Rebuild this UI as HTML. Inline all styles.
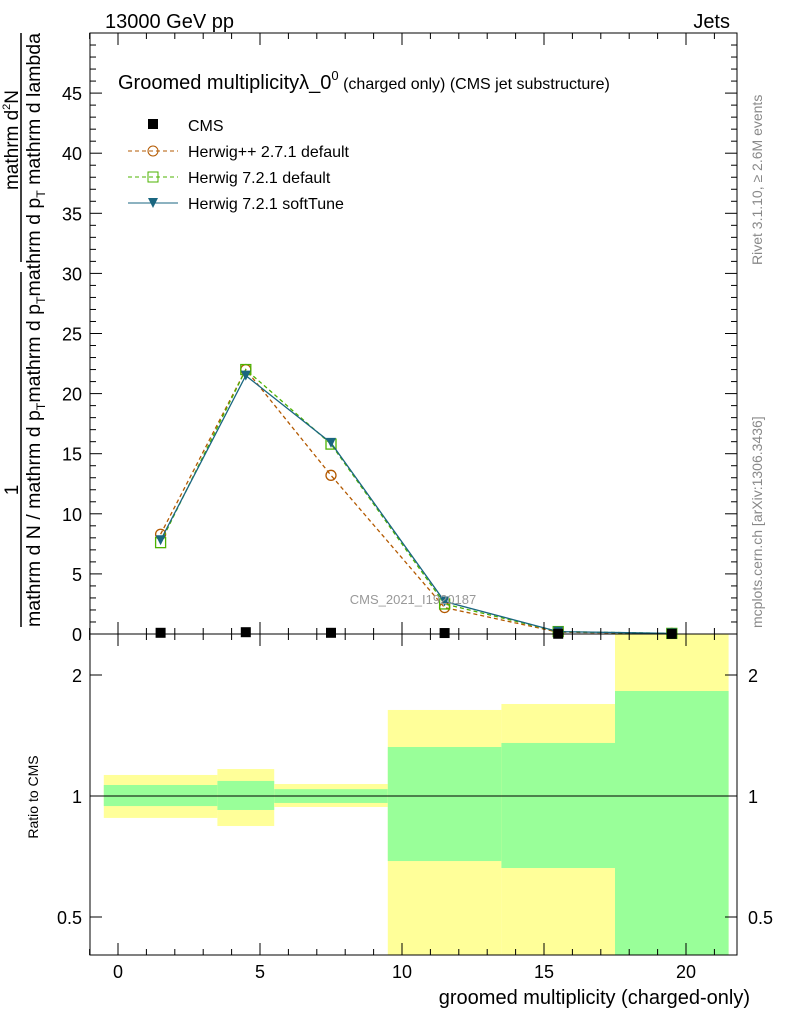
<!DOCTYPE html>
<html><head><meta charset="utf-8"><style>body{margin:0;background:#fff}svg{font-family:"Liberation Sans",sans-serif}</style></head>
<body>
<svg id="c" width="786" height="1024" xmlns="http://www.w3.org/2000/svg">
<g id="bands"></g>
<g id="marks"></g>
<g id="axes"></g>
<text x="105" y="28" font-size="20">13000 GeV pp</text>
<text x="730" y="28" font-size="20" text-anchor="end">Jets</text>
<text x="118" y="89" font-size="20">Groomed multiplicityλ_0<tspan font-size="13" dy="-9">0</tspan><tspan font-size="16" dy="9"> (charged only) (CMS jet substructure)</tspan></text>
<text x="413" y="604" font-size="13" fill="#999" text-anchor="middle">CMS_2021_I1920187</text>
<text x="750" y="1004" font-size="20" text-anchor="end">groomed multiplicity (charged-only)</text>
<text transform="translate(38,797) rotate(-90)" font-size="14" text-anchor="middle">Ratio to CMS</text>
<text transform="translate(762,265) rotate(-90)" font-size="14" fill="#888">Rivet 3.1.10, ≥ 2.6M events</text>
<text transform="translate(762,628) rotate(-90)" font-size="14" fill="#888">mcplots.cern.ch [arXiv:1306.3436]</text>
<g>
<line x1="21" y1="33" x2="21" y2="262" stroke="#000" stroke-width="1.5"/>
<line x1="21" y1="272" x2="21" y2="627" stroke="#000" stroke-width="1.5"/>
<text transform="translate(18,140) rotate(-90)" font-size="19" text-anchor="middle">mathrm d<tspan font-size="11" dy="-8">2</tspan><tspan dy="8">N</tspan></text>
<text transform="translate(18,490) rotate(-90)" font-size="19" text-anchor="middle">1</text>
<text transform="translate(40,627) rotate(-90)" font-size="19" textLength="594" lengthAdjust="spacingAndGlyphs">mathrm d N / mathrm d p<tspan font-size="12" dy="5">T</tspan><tspan dy="-5">mathrm d p</tspan><tspan font-size="12" dy="5">T</tspan><tspan dy="-5">mathrm d p</tspan><tspan font-size="12" dy="5">T</tspan><tspan dy="-5"> mathrm d lambda</tspan></text>
</g>
<g>
<rect x="148" y="119" width="10" height="10" fill="#000"/>
<text x="188" y="131" font-size="16">CMS</text>
<line x1="128" y1="151" x2="178" y2="151" stroke="#b35900" stroke-dasharray="4,3"/><circle cx="153" cy="151" r="5" fill="none" stroke="#b35900"/>
<text x="188" y="157" font-size="16">Herwig++ 2.7.1 default</text>
<line x1="128" y1="177" x2="178" y2="177" stroke="#4cb300" stroke-dasharray="4,3"/><rect x="148" y="172" width="10" height="10" fill="none" stroke="#4cb300"/>
<text x="188" y="183" font-size="16">Herwig 7.2.1 default</text>
<line x1="128" y1="203" x2="178" y2="203" stroke="#1a6680"/><path d="M148,198 L158,198 L153,208 Z" fill="#1a6680"/>
<text x="188" y="209" font-size="16">Herwig 7.2.1 softTune</text>
</g>
</svg>
<script>
const binLo=[-0.5,3.5,5.5,9.5,13.5,17.5];
const binHi=[3.5,5.5,9.5,13.5,17.5,21.5];
const centers=[1.5,4.5,7.5,11.5,15.5,19.5];
const cms=[0.1,0.15,0.1,0.08,0.02,0.01];
const hpp=[8.3,22.0,13.2,2.2,0.15,0.05];
const h7def=[7.6,22.0,15.8,2.5,0.2,0.05];
const h7soft=[7.8,21.5,15.9,2.7,0.2,0.05];
const yelHi=[1.128,1.167,1.071,1.637,1.694,3.0];
const yelLo=[0.882,0.842,0.939,0.3,0.3,0.3];
const grnHi=[1.065,1.09,1.04,1.324,1.355,1.825];
const grnLo=[0.944,0.923,0.961,0.689,0.662,0.3];
const xTicks=[0,5,10,15,20];
const yTicks=[0,5,10,15,20,25,30,35,40,45];
const rTicks=[0.5,1,2];
const NS="http://www.w3.org/2000/svg";
const L=90,R=737,T=33,MB=634,RB=955;
const X=v=>118+28.4*v;
const Y=v=>MB-(v/50)*(MB-T);
const RY=v=>{let y=796-121*Math.log2(v);return Math.max(MB,Math.min(RB,y));};
function mk(p,t,a){const e=document.createElementNS(NS,t);for(const k in a)e.setAttribute(k,a[k]);document.getElementById(p).appendChild(e);return e;}
for(let i=0;i<binLo.length;i++){
 let e=mk('bands','rect',{x:X(binLo[i]),y:RY(yelHi[i]),width:X(binHi[i])-X(binLo[i]),height:RY(yelLo[i])-RY(yelHi[i]),fill:'#ffff99'});
 
 
 e=mk('bands','rect',{x:X(binLo[i]),y:RY(grnHi[i]),width:X(binHi[i])-X(binLo[i]),height:RY(grnLo[i])-RY(grnHi[i]),fill:'#99ff99'});
 
 
}
mk('bands','line',{x1:L,x2:R,y1:796,y2:796,stroke:'#000'});
function series(vals,col,dash,marker,name){
 const pts=centers.map((c,i)=>X(c)+','+Y(vals[i])).join(' ');
 const attrs={points:pts,fill:'none',stroke:col,'stroke-width':1.3};
 if(dash)attrs['stroke-dasharray']=dash;
 let pl=mk('marks','polyline',attrs);
 
 
 centers.forEach((c,i)=>{const x=X(c),y=Y(vals[i]);let m;
  if(marker=='o')m=mk('marks','circle',{cx:x,cy:y,r:5,fill:'none',stroke:col,'stroke-width':1.3});
  else if(marker=='s')m=mk('marks','rect',{x:x-5,y:y-5,width:10,height:10,fill:'none',stroke:col,'stroke-width':1.3});
  else m=mk('marks','path',{d:`M${x-5},${y-5}L${x+5},${y-5}L${x},${y+5}Z`,fill:col});
  
  
 });
}
series(hpp,'#b35900','4,3','o','herwigpp');
series(h7def,'#4cb300','4,3','s','herwig7-default');
series(h7soft,'#1a6680','','v','herwig7-softtune');
centers.forEach((c,i)=>{const m=mk('marks','rect',{x:X(c)-5,y:Y(cms[i])-5,width:10,height:10,fill:'#000'});
 
 });
mk('axes','rect',{x:L,y:T,width:R-L,height:MB-T,fill:'none',stroke:'#000'});
mk('axes','rect',{x:L,y:MB,width:R-L,height:RB-MB,fill:'none',stroke:'#000'});
for(let v=-1;v<=21;v++){const x=X(v),big=v%5==0;
 [[MB,-1],[T,1],[MB,1],[RB,-1]].forEach(([y,d])=>mk('axes','line',{x1:x,x2:x,y1:y,y2:y+d*(big?12:6),stroke:'#000'}));}
xTicks.forEach(v=>{const t=mk('axes','text',{x:X(v),y:978,'font-size':18,'text-anchor':'middle'});t.textContent=v;
 
 });
for(let v=0;v<=50;v++){const y=Y(v),big=v%5==0;
 mk('axes','line',{x1:L,x2:L+(big?12:6),y1:y,y2:y,stroke:'#000'});
 mk('axes','line',{x1:R,x2:R-(big?12:6),y1:y,y2:y,stroke:'#000'});}
yTicks.forEach(v=>{const t=mk('axes','text',{x:82,y:Y(v)+7,'font-size':18,'text-anchor':'end'});t.textContent=v;
 
 });
rTicks.forEach(v=>{const y=RY(v);
 mk('axes','line',{x1:L,x2:L+12,y1:y,y2:y,stroke:'#000'});mk('axes','line',{x1:R,x2:R-12,y1:y,y2:y,stroke:'#000'});
 const s=String(v);let t=mk('axes','text',{x:82,y:y+7,'font-size':18,'text-anchor':'end'});t.textContent=s;
 
 
 t=mk('axes','text',{x:748,y:y+7,'font-size':18});t.textContent=s;
 
 });
</script>
</body></html>
